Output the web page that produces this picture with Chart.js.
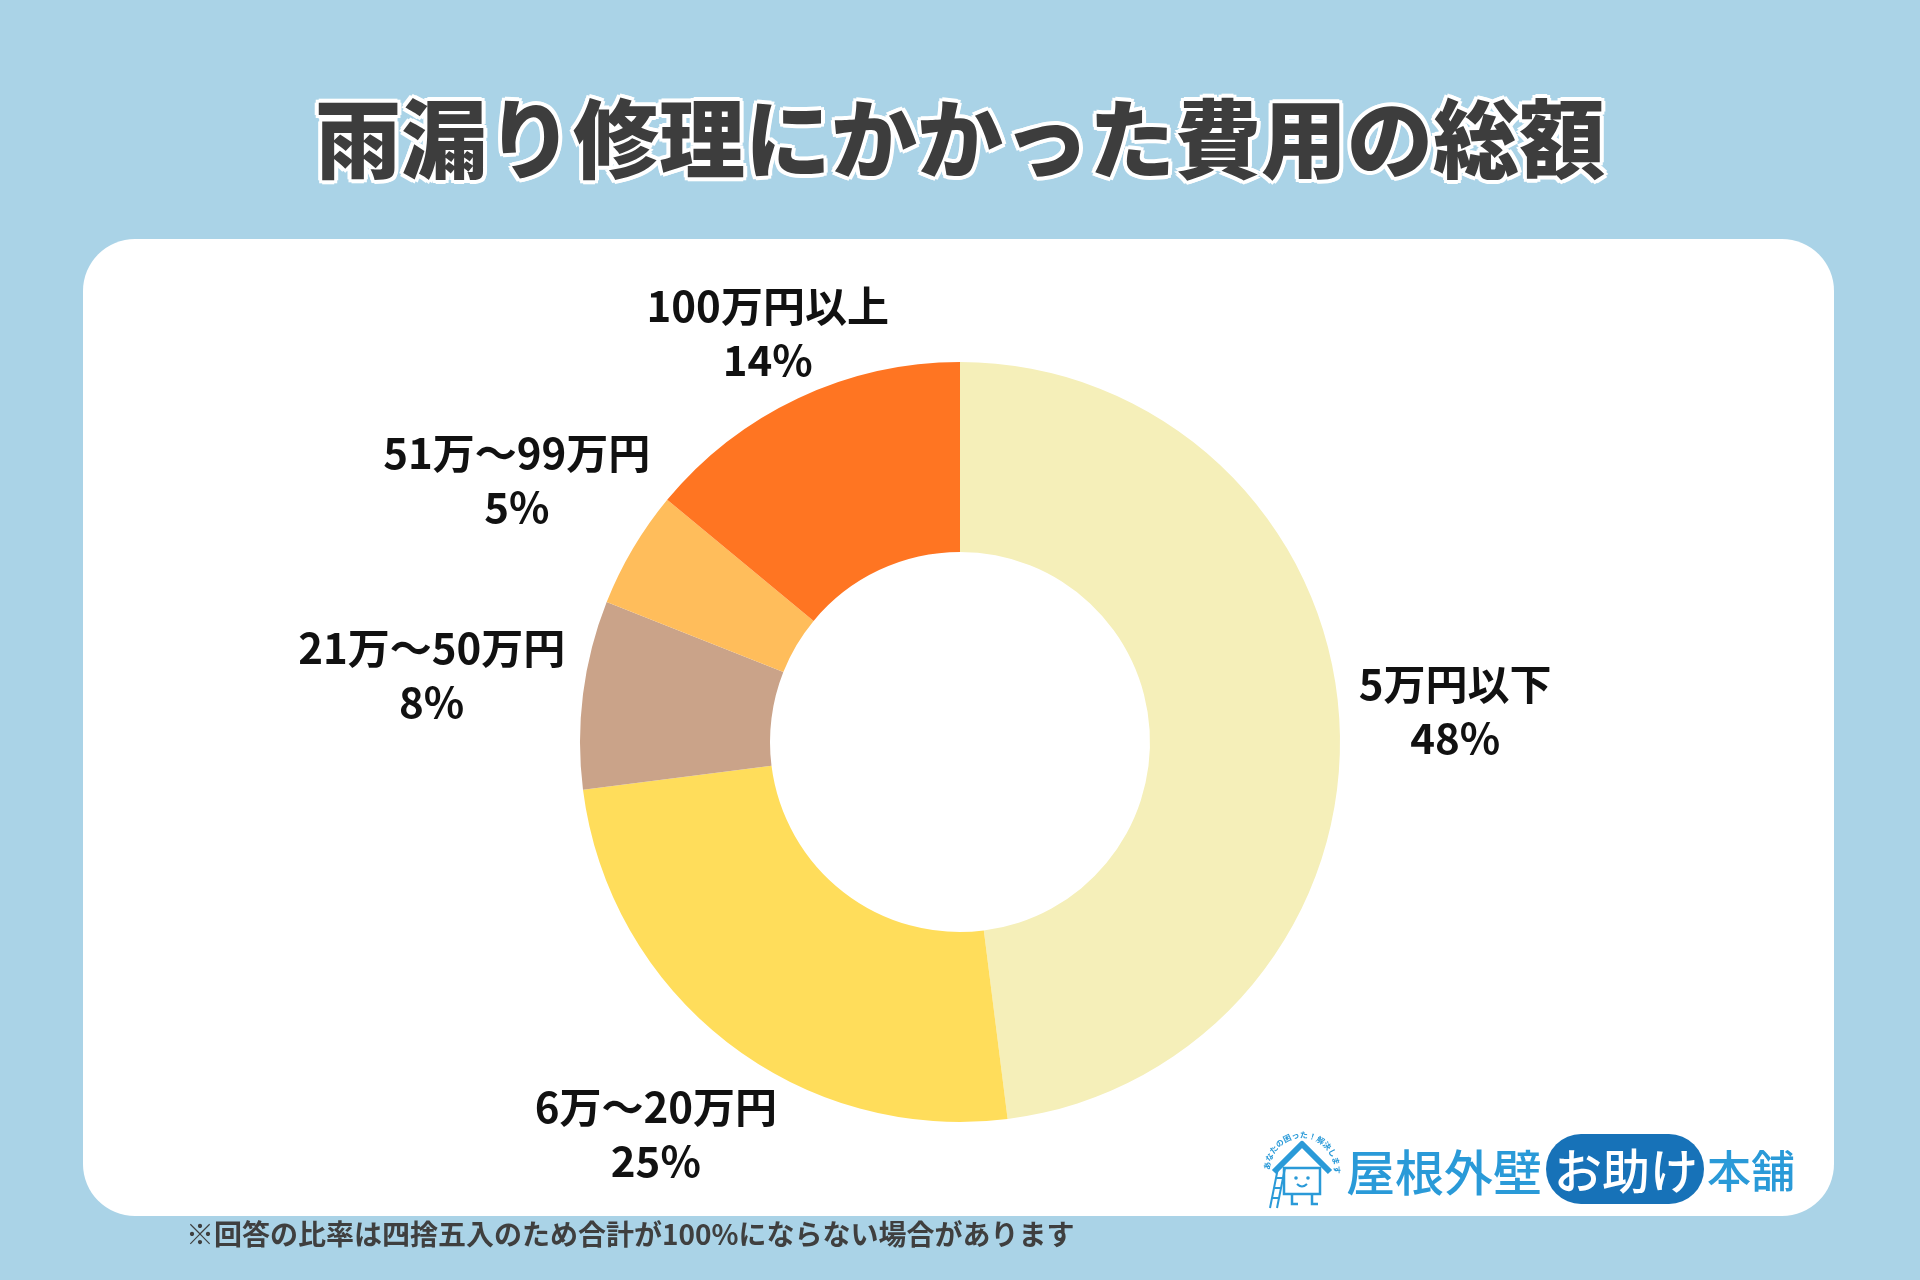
<!DOCTYPE html>
<html>
<head>
<meta charset="utf-8">
<title>雨漏り修理にかかった費用の総額</title>
<style>
    html, body { margin: 0; padding: 0; }
    body {
        width: 1920px; height: 1280px; overflow: hidden; position: relative;
        background: #aad3e7;
        font-family: "Noto Sans CJK JP", "Noto Sans", sans-serif;
    }
    #title {
        position: absolute; left: 0; top: 72px; width: 1920px; text-align: center;
        font-size: 86px; font-weight: 900; color: #3d3d3d; letter-spacing: 0px;
        text-shadow: 4px 0 #fff, -4px 0 #fff, 0 4px #fff, 0 -4px #fff,
                     3px 3px #fff, -3px 3px #fff, 3px -3px #fff, -3px -3px #fff;
    }
    #panel {
        position: absolute; left: 83px; top: 239px; width: 1751px; height: 977px;
        background: #fff; border-radius: 52px;
    }
    #chartWrap { position: absolute; left: 0; top: 0; width: 1920px; height: 1280px; }
    #note {
        position: absolute; left: 186px; top: 1213px;
        font-size: 28px; font-weight: 700; color: #3f3f3f;
    }
    #logo { position: absolute; left: 1262px; top: 1128px; height: 82px; display: flex; align-items: center; }
    #logo .t { font-size: 49px; font-weight: 500; color: #2a9ad8; line-height: 1; }
    #logo .bubble {
        background: #1772b8; color: #fff; font-size: 48px; font-weight: 500; line-height: 1;
        padding: 10px 6px 12px 8px; border-radius: 38px; margin: 0 3px 0 4px;
    }
</style>
</head>
<body>
<div id="title">雨漏り修理にかかった費用の総額</div>
<div id="panel"></div>
<div id="chartWrap"><canvas id="myChart" width="1920" height="1280"></canvas></div>
<div id="note">※回答の比率は四捨五入のため合計が100%にならない場合があります</div>
<div id="logo">
    <svg width="80" height="82" viewBox="0 0 80 82">
        <defs><path id="arc" d="M8,42 A32,32 0 0,1 72,42"/></defs>
        <text font-size="8" font-weight="700" fill="#2a9ad8"><textPath href="#arc">あなたの困った！解決します</textPath></text>
        <path d="M12,44 L40,16 L68,44" fill="none" stroke="#2a9ad8" stroke-width="6" stroke-linejoin="round"/>
        <rect x="22" y="40" width="36" height="26" fill="#fff" stroke="#2a9ad8" stroke-width="2.5"/>
        <circle cx="34" cy="50" r="1.8" fill="#2a9ad8"/><circle cx="46" cy="50" r="1.8" fill="#2a9ad8"/>
        <path d="M35,56 Q40,61 45,56" fill="none" stroke="#2a9ad8" stroke-width="2"/>
        <path d="M8,80 L16,40 M15,80 L23,40 M10,70 L17,70 M12,60 L19,60 M14,50 L21,50" stroke="#2a9ad8" stroke-width="2"/>
        <path d="M30,66 L30,76 L36,76 M50,66 L50,76 L56,76" fill="none" stroke="#2a9ad8" stroke-width="2.5"/>
    </svg>
    <span class="t" style="margin-left:4px">屋根外壁</span><span class="bubble">お助け</span><span class="t" style="font-size:44px">本舗</span>
</div>

<script src="https://cdn.jsdelivr.net/npm/chart.js"></script>
<script>
    const categories = ['5万円以下', '6万～20万円', '21万～50万円', '51万～99万円', '100万円以上'];
    const percents = [48, 25, 8, 5, 14];
    const colors = ['#f5efb9', '#ffdd5b', '#caa389', '#ffbd5b', '#ff7522'];

    // draws "label / xx%" outside each slice
    const outsideLabels = {
        id: 'outsideLabels',
        afterDatasetsDraw(chart) {
            const ctx = chart.ctx;
            const meta = chart.getDatasetMeta(0);
            const lineH = 54;
            ctx.save();
            ctx.font = '700 42px "Noto Sans CJK JP", "Noto Sans", sans-serif';
            ctx.fillStyle = '#111';
            ctx.textAlign = 'center';
            ctx.textBaseline = 'middle';
            meta.data.forEach((arc, i) => {
                const p = arc.getProps(['x', 'y', 'startAngle', 'endAngle', 'outerRadius'], true);
                const mid = (p.startAngle + p.endAngle) / 2;
                const cx = Math.cos(mid), cy = Math.sin(mid);
                const lines = [categories[i], percents[i] + '%'];
                const w = Math.max(...lines.map(l => ctx.measureText(l).width));
                const h = lineH * lines.length;
                // lower labels sit a bit further out
                const ext = Math.max(Math.abs(cx) * w / 2, Math.abs(cy) * h / 2) + (cy > 0.5 ? 22 : 0);
                const r = p.outerRadius + 20 + ext;
                const x = p.x + cx * r;
                const y = p.y + cy * r;
                lines.forEach((l, j) => {
                    ctx.fillText(l, x, y + (j - (lines.length - 1) / 2) * lineH);
                });
            });
            ctx.restore();
        }
    };

    new Chart(document.getElementById('myChart'), {
        type: 'doughnut',
        data: {
            labels: categories,
            datasets: [{
                data: percents,
                backgroundColor: colors,
                borderWidth: 0
            }]
        },
        options: {
            responsive: false,
            animation: false,
            cutout: '50%',
            layout: { padding: { top: 362, bottom: 158, left: 580, right: 580 } },
            plugins: {
                legend: { display: false },
                tooltip: { enabled: false }
            }
        },
        plugins: [outsideLabels]
    });
</script>
</body>
</html>
